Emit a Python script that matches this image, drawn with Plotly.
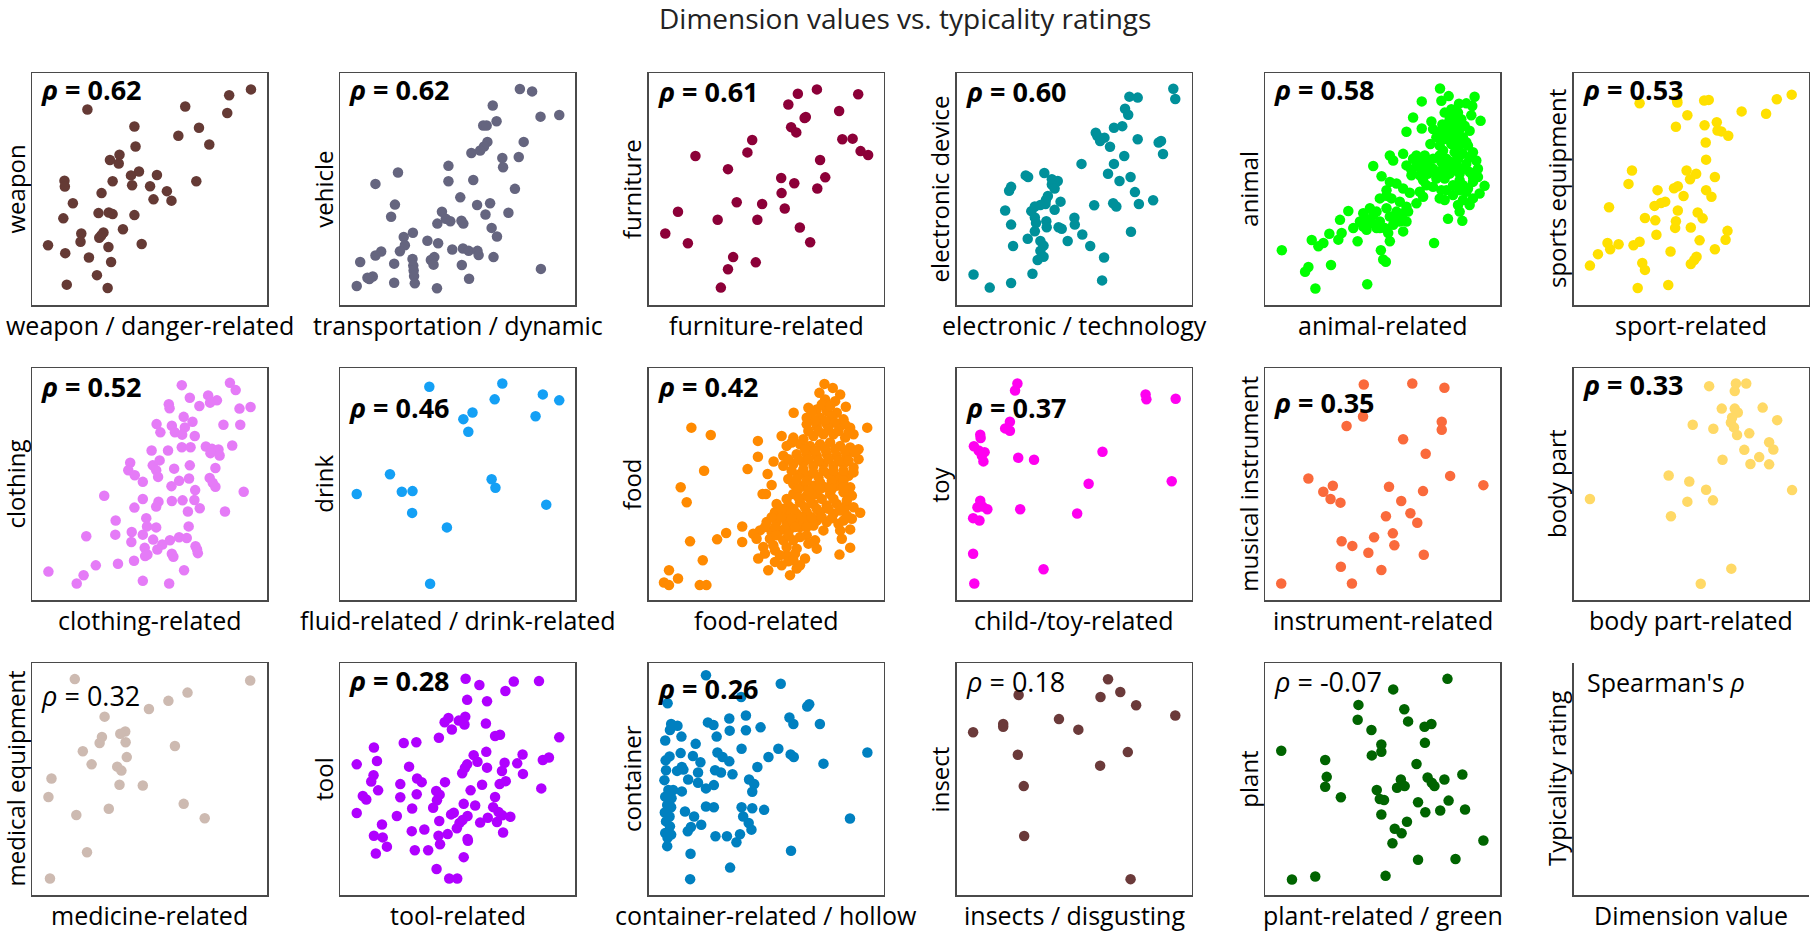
import plotly.graph_objects as go

W, H = 1810, 932
FONT = "Open Sans"

# ---- data (raw readings in each panel's reading frame) ----
categories = ["weapon", "vehicle", "furniture", "electronic device", "animal", "sports equipment",
              "clothing", "drink", "food", "toy", "musical instrument", "body part",
              "medical equipment", "tool", "container", "insect", "plant"]
dimensions = ["weapon / danger-related", "transportation / dynamic", "furniture-related",
              "electronic / technology", "animal-related", "sport-related",
              "clothing-related", "fluid-related / drink-related", "food-related",
              "child-/toy-related", "instrument-related", "body part-related",
              "medicine-related", "tool-related", "container-related / hollow",
              "insects / disgusting", "plant-related / green"]
rho_values = ["0.62", "0.62", "0.61", "0.60", "0.58", "0.53", "0.52", "0.46", "0.42", "0.37",
              "0.35", "0.33", "0.32", "0.28", "0.26", "0.18", "-0.07"]
rho_significant = [True, True, True, True, True, True, True, True, True, True,
                   True, True, False, True, True, False, False]
colors = ["#653a35", "#65657f", "#8c0038", "#00909a", "#00ff00", "#ffe000",
          "#e57bf7", "#14a0f5", "#ff8a00", "#ff00f0", "#fa6a3c", "#ffd966",
          "#cdbab1", "#b000ff", "#0080c0", "#6b3a3a", "#006400"]

weapon = [(655,88),(598,106),(593,160),(483,140),(227,149),(350,201),(519,205),(465,229),(546,256),
          (353,262),(311,287),(286,303),(309,314),(362,338),(341,350),(409,349),(167,366),(168,384),
          (293,368),(344,380),(512,368),(391,383),(435,398),(264,404),(400,423),(447,427),(189,435),
          (256,465),(283,463),(293,468),(350,471),(164,481),(320,514),(211,527),(269,524),(263,533),
          (258,540),(209,552),(124,563),(369,559),(282,568),(169,587),(231,600),(289,614),(252,654),
          (173,683),(280,693)]
vehicle = [(1357,87),(1389,94),(1286,137),(1411,171),(1460,166),(1296,185),(1261,198),(1270,198),
           (1367,248),(1272,248),(1263,262),(1253,274),(1230,282),(1311,297),(1354,294),(1313,325),
           (1170,321),(1038,341),(1170,368),(1235,364),(979,376),(1344,391),(1201,417),(1030,439),
           (1245,440),(1279,435),(1020,476),(1153,461),(1267,469),(1327,464),(1163,482),(1204,488),
           (1141,497),(1175,490),(1209,497),(1283,510),(1077,525),(1053,538),(1297,536),(1115,549),
           (1143,557),(1056,563),(1180,576),(1208,573),(1223,580),(1246,580),(1043,581),(994,582),
           (979,594),(1249,593),(1288,599),(1133,599),(1124,608),(1076,605),(939,614),(1028,619),
           (1205,623),(1078,625),(1131,622),(1079,640),(1080,657),(1412,635),(972,658),(958,662),
           (963,666),(1224,665),(1082,679),(1028,677),(930,687),(1140,694)]
furniture = [(547,88),(499,101),(651,103),(475,134),(603,154),(519,172),(516,175),(482,203),(495,219),
             (384,242),(611,240),(637,238),(241,291),(372,280),(657,276),(676,288),(323,331),(555,303),
             (457,358),(490,374),(568,356),(548,390),(458,404),(345,432),(409,437),(466,451),(197,461),
             (297,485),(397,485),(504,509),(165,527),(222,557),(530,554),(336,599),(393,615),(323,636),
             (305,692)]
electronic = [(1450,86),(1455,117),(1339,110),(1360,113),(1328,147),(1336,165),(1300,205),(1321,200),
              (1254,220),(1258,230),(1276,235),(1265,245),(1360,240),(1413,250),(1419,245),(1424,285),
              (1290,263),(1326,291),(1218,315),(1300,315),(1285,345),(1342,355),(1314,367),(1077,350),
              (1083,355),(1124,343),(1143,362),(1158,367),(1143,378),(1150,390),(1040,385),(1035,397),
              (1133,413),(1128,425),(1165,430),(1353,401),(1127,437),(1100,445),(1114,440),(1025,457),
              (1091,459),(1150,455),(1250,441),(1298,435),(1306,445),(1363,437),(1399,426),(1100,478),
              (1129,490),(1200,479),(1201,500),(1040,500),(1103,495),(1130,508),(1160,508),(1168,513),
              (1220,530),(1343,522),(1100,520),(1082,543),(1114,550),(1122,564),(1045,565),(1183,550),
              (1240,565),(1114,580),(1122,598),(1107,608),(1275,600),(1094,650),(945,652),(986,692),
              (1040,678),(1270,670)]
animal = [(541,87),(567,110),(645,112),(486,126),(545,124),(598,133),(620,132),(638,140),(575,150),
          (460,175),(635,168),(663,185),(515,187),(570,180),(580,170),(548,196),(486,208),(440,218),
          (520,210),(545,215),(560,205),(600,210),(585,220),(530,235),(555,240),(570,235),(610,235),
          (620,250),(512,255),(540,260),(575,255),(600,260),(625,260),(550,275),(585,280),(610,285),
          (430,285),(390,290),(400,305),(470,290),(495,290),(480,305),(520,300),(540,290),(560,300),
          (340,322),(440,320),(470,320),(500,320),(520,330),(650,305),(620,315),(655,330),(560,320),
          (590,320),(610,330),(365,353),(455,350),(480,350),(505,345),(535,350),(570,345),(600,345),
          (630,340),(390,370),(410,375),(490,365),(530,360),(555,360),(580,380),(610,380),(640,370),
          (675,382),(380,395),(450,403),(480,400),(520,385),(545,395),(600,395),(620,400),(660,405),
          (360,420),(380,412),(395,420),(470,435),(490,415),(540,420),(580,410),(610,425),(630,440),
          (265,458),(310,465),(330,450),(350,460),(380,450),(410,460),(440,445),(555,425),(240,485),
          (300,490),(320,485),(340,470),(360,490),(390,475),(410,480),(430,465),(440,490),(600,460),
          (565,482),(608,488),(280,510),(310,505),(320,515),(350,510),(375,510),(385,525),(430,520),
          (208,527),(235,545),(245,525),(155,546),(175,565),(190,555),(293,550),(390,550),(523,555),
          (65,577),(363,577),(370,605),(378,612),(213,622),(145,628),(135,642),(322,680),(166,693),
          (555,160),(595,160),(605,180),(590,195),(615,200),(575,200),(630,215),(595,240),(565,225),
          (640,280),(630,295),(595,300),(575,310),(545,310),(505,305),(460,300),(455,335),(485,335),
          (515,340),(545,335),(580,335),(640,355),(655,355),(600,365),(625,390),(560,395),(500,380),
          (430,390),(420,430),(445,460),(420,490),(400,500),(335,495),(360,510),(595,440),(640,420)]
sports = [(1123,130),(1221,122),(1222,128),(1292,122),(1304,120),(1390,155),(1248,167),(1218,202),
          (1293,197),(1325,188),(1327,213),(1337,216),(1355,229),(1296,250),(1297,302),(1454,162),
          (1482,118),(1521,104),(1103,335),(1246,335),(1271,345),(1255,362),(1094,376),(1320,355),
          (1223,383),(1213,389),(1170,395),(1297,395),(1311,415),(1238,413),(1043,447),(1190,430),
          (1179,434),(1162,443),(1223,457),(1275,463),(1288,481),(1137,480),(1164,487),(1218,490),
          (1216,510),(1257,509),(1353,519),(1167,531),(1348,546),(1280,548),(1039,556),(1068,560),
          (1046,575),(1107,563),(1123,552),(1320,575),(1204,582),(1014,590),(993,625),(1272,598),
          (1266,608),(1257,620),(1130,617),(1137,638),(1118,693),(1198,684)]
clothing = [(474,87),(600,80),(615,102),(495,125),(543,118),(566,133),(548,140),(520,150),(440,145),
            (442,157),(625,158),(654,153),(479,183),(502,198),(408,205),(448,210),(418,230),(456,230),
            (482,215),(475,237),(508,241),(583,207),(627,207),(395,285),(438,285),(474,275),(497,275),
            (537,273),(553,280),(570,282),(549,293),(573,300),(606,270),(339,322),(334,345),(398,330),
            (416,315),(407,345),(454,340),(412,365),(495,330),(562,338),(351,360),(372,380),(467,377),
            (493,370),(547,368),(555,383),(562,395),(447,393),(509,405),(271,422),(372,432),(413,440),
            (407,455),(448,438),(476,436),(507,435),(521,460),(587,470),(636,410),(350,458),(490,470),
            (301,497),(381,490),(383,515),(407,518),(492,515),(224,545),(300,540),(343,532),(372,540),
            (342,562),(399,555),(423,570),(443,557),(467,548),(487,550),(510,575),(516,596),(377,580),
            (384,600),(410,585),(448,598),(452,607),(514,585),(378,605),(249,633),(307,628),(349,619),
            (480,648),(125,652),(217,663),(199,688),(372,680),(441,688)]
drink = [(1120,92),(1311,82),(1291,130),(1417,115),(1460,133),(1398,181),(1233,170),(1209,190),
         (1222,228),(1017,357),(930,417),(1048,410),(1076,408),(1283,372),(1293,398),(1426,449),
         (1075,474),(1166,518),(1122,689)]
food = [(155,205),(213,227),(193,335),(123,385),(141,430),(151,548),(189,605),(88,635),(115,660),
        (73,672),(88,680),(180,680),(200,680),(232,542),(259,523),(307,503),(307,550),(323,330),
        (354,245),(354,293),(401,307),(383,345),(395,378),(368,405),(378,405),(461,160),(681,205),
        (553,73),(578,85),(538,100),(600,105),(555,120),(585,125),(617,142),(505,145),(530,150),
        (560,155),(590,160),(500,175),(540,175),(575,170),(610,180),(500,195),(530,200),(560,195),
        (600,200),(630,205),(425,230),(460,235),(490,240),(520,230),(550,225),(580,225),(615,235),
        (640,225),(440,260),(480,255),(510,260),(540,255),(570,250),(600,260),(630,265),(655,270),
        (430,290),(470,285),(500,285),(530,290),(560,285),(590,290),(620,290),(655,300),(430,320),
        (460,315),(490,310),(520,320),(550,315),(580,320),(610,315),(640,325),(445,360),(480,345),
        (505,350),(535,355),(565,345),(595,355),(625,350),(460,375),(490,380),(520,380),(555,385),
        (590,380),(630,385),(460,405),(500,410),(530,405),(570,405),(610,400),(635,410),(410,435),
        (445,440),(480,430),(520,435),(560,440),(590,435),(615,445),(405,460),(440,465),(470,465),
        (500,460),(540,460),(580,465),(620,470),(660,462),(635,480),(380,490),(410,490),(440,495),
        (470,490),(500,485),(530,485),(560,490),(595,495),(360,515),(395,520),(420,515),(450,510),
        (480,505),(520,500),(550,515),(600,515),(630,512),(340,525),(390,540),(430,545),(460,545),
        (500,530),(525,545),(605,540),(370,565),(400,560),(440,565),(470,570),(505,555),(530,570),
        (355,600),(405,575),(440,590),(465,585),(495,600),(630,567),(598,588),(385,635),(405,610),
        (445,608),(470,630),(450,650),(480,620),
        (515,160),(545,135),(570,140),(525,185),(555,185),(585,190),(615,195),(505,215),(535,215),
        (565,210),(595,215),(625,220),(455,250),(495,270),(525,275),(555,270),(585,270),(615,275),
        (645,280),(445,300),(475,300),(505,300),(535,305),(565,300),(595,305),(625,305),(455,335),
        (490,330),(520,340),(550,335),(580,335),(610,335),(640,340),(470,360),(500,365),(540,370),
        (575,365),(610,365),(475,390),(505,395),(540,390),(575,390),(610,385),(440,420),(475,415),
        (510,420),(545,420),(580,420),(620,425),(425,450),(460,450),(495,445),(530,450),(565,450),
        (600,455),(640,445),(395,475),(425,475),(455,480),(485,475),(515,475),(545,475),(575,478),
        (610,485),(375,505),(405,505),(435,510),(465,505),(500,505),(350,540),(410,530),(445,528),
        (480,535),(375,585),(420,590),(460,605),(425,620)]
toy = [(1056,82),(1050,103),(1380,115),(1382,130),(1456,128),(1037,198),(1025,218),(1037,225),
       (962,237),(963,247),(946,272),(958,285),(973,290),(966,300),(970,318),(1058,307),(1098,313),
       (1271,289),(1236,386),(1446,378),(962,437),(955,457),(968,455),(980,463),(1063,463),
       (1207,476),(944,490),(960,497),(944,598),(1122,645),(947,688)]
musical = [(403,85),(530,82),(614,95),(401,182),(358,211),(607,198),(607,222),(506,251),(565,295),
           (258,370),(629,362),(716,390),(322,392),(297,410),(316,432),(342,443),(469,395),(558,408),
           (501,438),(461,484),(525,475),(543,504),(345,560),(373,574),(430,548),(479,536),(483,572),
           (415,595),(560,601),(343,637),(449,647),(187,688),(372,688)]
bodypart = [(1305,90),(1375,82),(1402,82),(1372,105),(1338,158),(1372,158),(1445,155),(1483,193),
            (1380,170),(1365,185),(1362,200),(1370,215),(1378,238),(1262,207),(1316,219),(1410,233),
            (1462,260),(1473,282),(1397,283),(1340,313),(1436,305),(1413,326),(1462,327),(1199,361),
            (1253,379),(1297,404),(1522,405),(993,432),(1248,440),(1315,436),(1205,484),(1363,643),
            (1283,689)]
medical = [(194,74),(653,78),(489,115),(439,140),(388,165),(272,188),(326,233),(313,240),(265,250),
           (259,268),(327,266),(215,293),(456,277),(238,333),(330,311),(305,340),(316,352),(133,376),
           (311,395),(372,397),(125,432),(479,453),(198,487),(283,468),(534,497),(226,600),(129,680)]
tool = [(1215,73),(1251,92),(1341,81),(1407,80),(1319,110),(1219,137),(1271,141),(1160,205),(1170,192),
        (1197,200),(1214,188),(1212,212),(1179,227),(1268,209),(1145,252),(1292,247),(1305,243),
        (1460,251),(975,282),(1053,268),(1086,266),(1269,295),(983,323),(930,333),(1236,305),
        (1246,325),(1219,333),(1213,344),(1206,360),(1271,343),(1067,340),(1317,328),(1350,330),
        (1364,303),(1417,320),(1433,312),(1310,353),(1365,362),(974,366),(968,385),(1088,376),
        (1100,387),(1161,387),(1044,393),(1258,395),(1304,393),(1320,384),(986,412),(1413,406),
        (946,429),(955,440),(1044,433),(1087,424),(1138,414),(1147,425),(1228,412),(1292,432),
        (1140,442),(1130,465),(1210,453),(1240,458),(1287,463),(1301,478),(930,481),(1075,467),
        (1035,490),(1177,485),(1184,480),(1220,490),(1207,502),(1199,511),(1146,505),(1273,495),
        (1297,508),(1311,488),(1332,492),(1253,510),(996,516),(1192,527),(1074,536),(1107,531),
        (1313,540),(975,550),(998,555),(1144,550),(1168,545),(1221,565),(1148,576),(1009,583),
        (980,604),(1082,594),(1117,594),(1210,615),(1139,651),(1172,680),(1193,680),(1220,560)]
container = [(268,62),(457,88),(357,128),(171,147),(529,150),(524,157),(327,193),(369,184),(479,190),
             (489,210),(556,210),(180,210),(177,228),(196,215),(273,205),(287,213),(328,230),(369,229),
             (406,220),(206,248),(295,248),(165,260),(242,270),(358,285),(451,285),(482,302),(490,310),
             (426,310),(676,296),(565,330),(204,298),(176,308),(166,320),(235,307),(254,326),(297,296),
             (310,310),(327,323),(398,340),(167,350),(211,348),(195,352),(207,340),(248,357),(291,350),
             (306,357),(335,362),(163,380),(223,378),(248,388),(288,395),(268,405),(377,378),(390,392),
             (385,415),(173,410),(185,410),(207,414),(165,430),(181,435),(170,455),(180,462),(164,478),
             (176,490),(215,475),(238,490),(268,460),(288,462),(358,462),(385,465),(415,470),(362,490),
             (167,505),(177,520),(256,515),(230,522),(222,535),(376,510),(383,530),(165,540),(180,545),
             (171,555),(292,550),(321,550),(354,544),(345,568),(632,496),(170,580),(229,603),(483,594),
             (329,645),(228,680)]
insect = [(1285,74),(1059,122),(1266,128),(1316,113),(1356,153),(1455,184),(944,235),(1020,210),
          (1020,218),(1161,195),(1210,227),(1057,303),(1335,295),(1265,336),(1072,398),(1073,549),
          (1342,680)]
plant = [(622,73),(480,105),(389,152),(509,165),(387,197),(519,202),(562,218),(580,210),(423,228),
         (449,272),(563,267),(449,294),(424,305),(187,291),(302,319),(541,331),(306,370),(302,400),
         (500,378),(490,403),(510,398),(570,372),(581,388),(588,398),(614,378),(661,363),(437,410),
         (445,437),(456,440),(343,432),(545,447),(564,477),(625,442),(603,472),(668,469),(449,484),
         (516,506),(484,527),(502,541),(478,571),(716,563),(545,621),(643,619),(460,670),(215,681),
         (276,672)]

readings = [weapon, vehicle, furniture, electronic, animal, sports, clothing, drink, food, toy,
            musical, bodypart, medical, tool, container, insect, plant]
# reading frames (left, right, top, bottom) of each panel's box in the units the values were read in
frames = [(82,697,38,745),(887,1502,38,745),(123,715,38,745),(903,1497,38,745),(15,722,40,743),
          (950,1565,38,745),(82,697,35,738),(887,1502,35,738),(27,730,25,725),(903,1497,35,738),
          (145,760,35,738),(950,1565,35,738),(82,697,25,730),(887,1502,25,730),(123,717,25,728),
          (903,1497,25,728),(145,760,25,728)]
rho_pos = [0.93,0.93,0.92,0.92,0.93,0.93,0.92,0.83,0.92,0.83,0.85,0.93,0.86,0.925,0.89,0.92,0.92]

# ---- layout geometry (pixels) ----
col_left = [32, 340.3, 648.6, 956.9, 1265.2, 1573.5]
row_top = [73, 368, 663]
BW, BH = 235, 232

fig = go.Figure()
annotations = []
layout = {}
for i in range(18):
    r, c = divmod(i, 6)
    xd = [col_left[c] / W, (col_left[c] + BW) / W]
    yd = [1 - (row_top[r] + BH) / H, 1 - row_top[r] / H]
    xa = "xaxis" if i == 0 else f"xaxis{i+1}"
    ya = "yaxis" if i == 0 else f"yaxis{i+1}"
    xr = "x" if i == 0 else f"x{i+1}"
    yr = "y" if i == 0 else f"y{i+1}"
    last = i == 17
    common = dict(showgrid=False, zeroline=False, showticklabels=False, ticks="",
                  showline=True, linecolor="#4a4a4a", linewidth=1.5,
                  mirror=not last, range=[0, 1], fixedrange=True)
    layout[xa] = dict(domain=xd, anchor=yr, **common)
    layout[ya] = dict(domain=yd, anchor=xr, **common)
    if not last:
        L, R, T, B = frames[i]
        pts = readings[i]
        dim_val = [(p[0] - L) / (R - L) for p in pts]
        typ_val = [(B - p[1]) / (B - T) for p in pts]
        fig.add_trace(go.Scatter(x=dim_val, y=typ_val, mode="markers", xaxis=xr, yaxis=yr,
                                 marker=dict(color=colors[i], size=10.5, line=dict(width=0)),
                                 showlegend=False, hoverinfo="skip"))
        txt = f"<i>ρ</i> = {rho_values[i]}"
        if rho_significant[i]:
            txt = f"<b>{txt}</b>"
        annotations.append(dict(text=txt, xref=f"{xr} domain", yref=f"{yr} domain",
                                x=0.03, y=rho_pos[i], xanchor="left", yanchor="middle",
                                showarrow=False, font=dict(family=FONT, size=27, color="black")))
        xlab, ylab = dimensions[i], categories[i]
    else:
        # empty key panel
        fig.add_trace(go.Scatter(x=[None], y=[None], mode="markers", xaxis=xr, yaxis=yr,
                                 showlegend=False, hoverinfo="skip"))
        annotations.append(dict(text="Spearman's <i>ρ</i>", xref=f"{xr} domain", yref=f"{yr} domain",
                                x=0.05, y=0.92, xanchor="left", yanchor="middle", showarrow=False,
                                font=dict(family=FONT, size=25, color="black")))
        xlab, ylab = "Dimension value", "Typicality rating"
    annotations.append(dict(text=xlab, xref=f"{xr} domain", yref=f"{yr} domain", x=0.5, y=0,
                            xanchor="center", yanchor="top", yshift=-1, showarrow=False,
                            font=dict(family=FONT, size=25, color="black")))
    annotations.append(dict(text=ylab, xref=f"{xr} domain", yref=f"{yr} domain", x=0, y=0.5,
                            xanchor="right", yanchor="middle", xshift=1, textangle=-90,
                            showarrow=False, font=dict(family=FONT, size=24, color="black")))

annotations.append(dict(text="Dimension values vs. typicality ratings", xref="paper", yref="paper",
                        x=0.5, y=1 - 18 / H, xanchor="center", yanchor="middle", showarrow=False,
                        font=dict(family=FONT, size=28, color="#222")))

fig.update_layout(width=W, height=H, margin=dict(l=0, r=0, t=0, b=0),
                  paper_bgcolor="white", plot_bgcolor="white", annotations=annotations, **layout)
fig.write_html("out.html", post_script="document.body.style.margin='0';",
               config={"displayModeBar": False, "staticPlot": True})
